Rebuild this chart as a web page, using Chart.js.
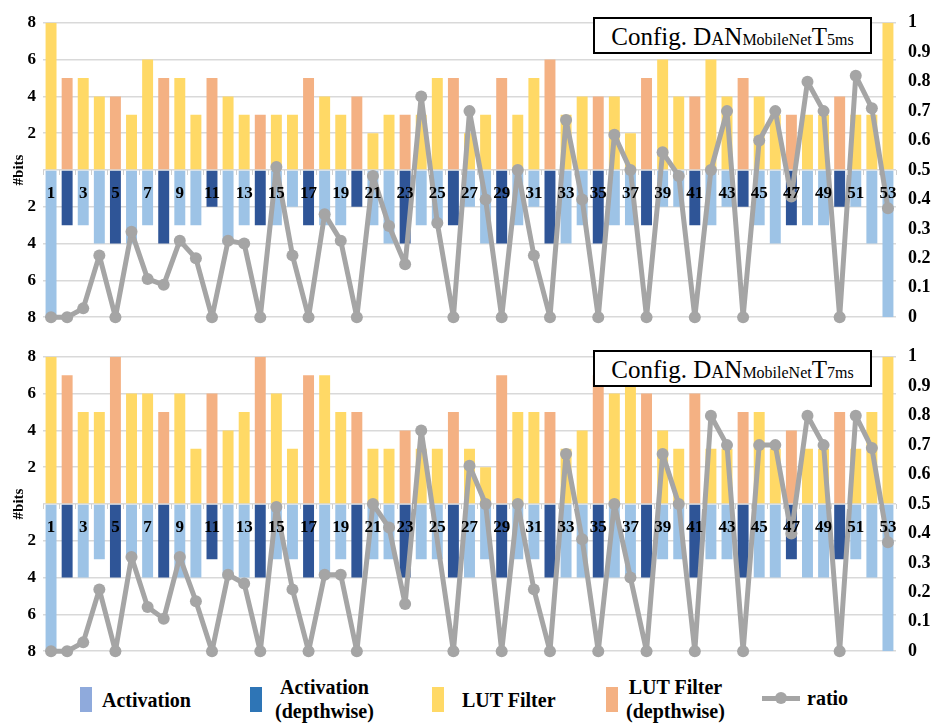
<!DOCTYPE html>
<html>
<head>
<meta charset="utf-8">
<script src="https://cdn.jsdelivr.net/npm/chart.js@4.4.0/dist/chart.umd.min.js"></script>
<style>
body{margin:0;background:#fff;width:938px;height:726px;position:relative;overflow:hidden;font-family:"Liberation Serif","Times New Roman",serif;color:#000}
.panel{position:absolute;left:0;width:938px;height:340px}
.cfg{position:absolute;left:593px;width:275px;height:33px;border:2px solid #000;background:#fff;text-align:center;line-height:36px;font-size:25px;white-space:nowrap}
.cfg .a{font-size:18px}
.cfg .s{font-size:16px}
.lg{position:absolute;font-weight:bold;font-size:20px;line-height:24px;text-align:center;white-space:nowrap}
.sw{position:absolute;width:12px;height:25px;top:687px}
</style>
</head>
<body>
<div class="panel" style="top:0"><canvas id="c5" width="938" height="340"></canvas></div>
<div class="panel" style="top:334px"><canvas id="c7" width="938" height="340"></canvas></div>

<div class="cfg" style="top:17px">Config. D<span class="a">A</span>N<span class="s">MobileNet</span>T<span class="s">5ms</span></div>
<div class="cfg" style="top:350px">Config. D<span class="a">A</span>N<span class="s">MobileNet</span>T<span class="s">7ms</span></div>

<!-- legend -->
<div class="sw" style="left:80px;background:#8FAADC"></div>
<div class="lg" style="left:102px;top:688px">Activation</div>
<div class="sw" style="left:250px;background:#2E75B6"></div>
<div class="lg" style="left:275px;top:675px">Activation<br>(depthwise)</div>
<div class="sw" style="left:432px;background:#FFD966"></div>
<div class="lg" style="left:462px;top:688px">LUT Filter</div>
<div class="sw" style="left:606px;background:#F4B183"></div>
<div class="lg" style="left:626px;top:675px">LUT Filter<br>(depthwise)</div>
<div style="position:absolute;left:762px;top:696px;width:38px;height:5px;background:#A5A5A5"></div>
<div style="position:absolute;left:775px;top:692px;width:12px;height:12px;border-radius:50%;background:#A5A5A5"></div>
<div class="lg" style="left:807px;top:686px">ratio</div>

<script>
// layer numbers on the x axis
const LAYERS=[1,2,3,4,5,6,7,8,9,10,11,12,13,14,15,16,17,18,19,20,21,22,23,24,25,26,27,28,29,30,31,32,33,34,35,36,37,38,39,40,41,42,43,44,45,46,47,48,49,50,51,52,53];
// layers that are depthwise convolutions
const DEPTHWISE=[2,5,8,11,14,17,20,23,26,29,32,35,38,41,44,47,50];

// Config T5ms
const LUT_5MS=[8,5,5,4,4,3,6,5,5,3, 5,4,3,3,3,3,5,4,3,4, 2,3,3,3,5,5,2,3,5,3, 5,6,3,4,4,4,2,5,6,4, 4,6,4,5,4,3,3,3,3,4, 3,3,8];
const ACT_5MS=[8,3,3,4,4,4,3,4,3,3, 2,4,3,3,3,2,3,3,3,2, 3,4,4,3,3,3,2,4,4,3, 2,4,4,3,4,3,3,3,2,2, 3,3,2,2,3,4,3,3,3,2, 2,4,8];
const RATIO_5MS=[0,0,0.03,0.21,0,0.29,0.13,0.11,0.26,0.2, 0,0.26,0.25,0,0.51,0.21,0,0.35,0.26,0, 0.48,0.31,0.18,0.75,0.32,0,0.7,0.4,0,0.5, 0.21,0,0.67,0.4,0,0.62,0.5,0,0.56,0.48, 0,0.5,0.7,0,0.6,0.7,0.41,0.8,0.7,0, 0.82,0.71,0.37];

// Config T7ms
const LUT_7MS=[8,7,5,5,8,6,6,5,6,3, 6,4,5,8,6,3,7,7,5,5, 3,3,4,3,3,5,3,2,7,5, 5,5,3,4,7,6,7,6,4,3, 6,3,3,5,5,3,4,3,3,5, 3,5,8];
const ACT_7MS=[8,4,4,3,4,3,4,4,4,4, 3,4,4,4,3,3,4,4,3,4, 3,3,4,3,3,4,4,3,4,3, 3,4,4,4,4,4,4,4,3,3, 4,3,3,4,4,4,3,4,4,3, 3,4,8];
const RATIO_7MS=[0,0,0.03,0.21,0,0.32,0.15,0.11,0.32,0.17, 0,0.26,0.23,0,0.49,0.21,0,0.26,0.26,0, 0.5,0.42,0.16,0.75,null,0,0.63,0.5,0,0.5, 0.21,0,0.67,0.38,0,0.5,0.25,0,0.67,0.5, 0,0.8,0.7,0,0.7,0.7,0.4,0.8,0.7,0, 0.8,0.69,0.37];

const SERIF='"Liberation Serif","Times New Roman",serif';
const GREY='#A5A5A5';
const C_ACT='#9DC3E6', C_ACT_DW='#2F5597', C_LUT='#FFD966', C_LUT_DW='#F4B183';

function isDw(i){return DEPTHWISE.includes(LAYERS[i]);}

function makeChart(id,lut,act,ratio){
  const bar={barPercentage:0.68,categoryPercentage:1,order:1};
  return new Chart(document.getElementById(id).getContext('2d'),{
    type:'bar',
    data:{
      labels:LAYERS,
      datasets:[
        {type:'line',label:'ratio',data:ratio,yAxisID:'y1',borderColor:GREY,backgroundColor:GREY,borderWidth:5,
         borderJoinStyle:'round',borderCapStyle:'round',
         pointRadius:6,pointHoverRadius:6,pointBorderWidth:0,spanGaps:true,clip:false,order:0},
        {...bar,label:'Activation',data:act.map((v,i)=>isDw(i)?null:-v),backgroundColor:C_ACT},
        {...bar,label:'Activation (depthwise)',data:act.map((v,i)=>isDw(i)?-v:null),backgroundColor:C_ACT_DW},
        {...bar,label:'LUT Filter',data:lut.map((v,i)=>isDw(i)?null:v),backgroundColor:C_LUT},
        {...bar,label:'LUT Filter (depthwise)',data:lut.map((v,i)=>isDw(i)?v:null),backgroundColor:C_LUT_DW}
      ]
    },
    options:{
      responsive:false,animation:false,
      layout:{padding:{top:17,bottom:14,left:0,right:0}},
      plugins:{legend:{display:false},tooltip:{enabled:false}},
      scales:{
        x:{stacked:true,position:{y:0},
           grid:{drawOnChartArea:false,drawTicks:true,tickLength:5,color:'#d0d0d0',offset:true,z:1},
           border:{display:false},
           ticks:{z:1,autoSkip:false,maxRotation:0,padding:8,color:'#000',font:{family:SERIF,weight:'bold',size:17},
                  callback:(v,i)=>LAYERS[i]%2?String(LAYERS[i]):''}},
        y:{stacked:true,min:-8,max:8,afterFit:s=>{s.width=43;},
           grid:{color:'#d9d9d9',lineWidth:1.5,drawTicks:false},border:{display:false},
           ticks:{stepSize:1,padding:7,color:'#000',font:{family:SERIF,weight:'bold',size:17},
                  callback:v=>(v%2===0&&v!==0)?String(Math.abs(v)):''},
           title:{display:true,text:'#bits',color:'#000',font:{family:SERIF,weight:'bold',size:15},padding:{top:10,bottom:0}}},
        y1:{position:'right',min:0,max:1,afterFit:s=>{s.width=42;},
            grid:{display:false,drawTicks:false},border:{display:false},
            ticks:{stepSize:0.1,padding:12,color:'#000',font:{family:SERIF,weight:'bold',size:18},
                   callback:v=>String(+v.toFixed(1))}}
      }
    }
  });
}

makeChart('c5',LUT_5MS,ACT_5MS,RATIO_5MS);
makeChart('c7',LUT_7MS,ACT_7MS,RATIO_7MS);
</script>
</body>
</html>
